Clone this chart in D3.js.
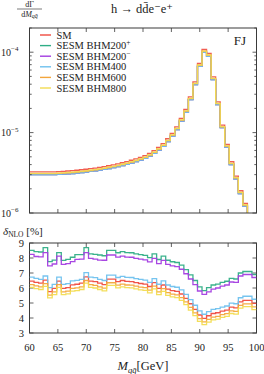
<!DOCTYPE html>
<html>
<head>
<meta charset="utf-8">
<script src="https://cdn.jsdelivr.net/npm/d3@7"></script>
<style>
  html, body { margin: 0; padding: 0; background: #fff; }
  svg { display: block; font-family: "Liberation Serif", "DejaVu Serif", serif; }
</style>
</head>
<body>
<svg id="chart" width="264" height="374"></svg>
<script>
/* ------------------------------- Data ------------------------------- */
// 50 bins of 0.8 GeV from 60 to 100 GeV
const binStart = 60;
const binWidth = 0.8;
const xTicks = [60, 65, 70, 75, 80, 85, 90, 95, 100];
const yTicksBottom = [3, 4, 5, 6, 7, 8, 9];
const topUnit = 1e-6;

const seriesNames = ["SM", "SESM BHM200", "SESM BHM200", "SESM BHM400", "SESM BHM600", "SESM BHM800"];
const seriesSup = ["", "+", "\u2212", "", "", ""];
const seriesColors = ["#ef4b3f", "#2fae86", "#a33de0", "#6fc1ee", "#f3a63c", "#f2dc52"];

// dΓ/dM (units of 1e-6)
const smTop = [3.25,3.25,3.25,3.25,3.25,3.25,3.27,3.29,3.33,3.36,3.40,3.45,3.50,3.56,3.62,3.70,3.78,3.87,3.97,4.09,
  4.22,4.36,4.53,4.71,4.93,5.18,5.53,5.98,6.55,7.30,8.38,9.77,11.8,15.0,19.4,27.9,42.8,72.4,108,96.4,
  49.3,24.1,12.4,7.13,4.34,2.88,1.89,1.32,0.6,0.3];
const bhm200pTop = [3.00,3.00,3.00,3.00,3.00,3.00,3.02,3.04,3.07,3.10,3.14,3.18,3.23,3.29,3.34,3.42,3.49,3.57,3.66,3.78,
  3.90,4.02,4.18,4.35,4.55,4.78,5.10,5.52,6.05,6.74,7.73,9.02,10.9,13.9,17.9,25.7,39.5,66.8,99.7,88.9,
  45.5,22.3,11.5,6.58,4.01,2.66,1.74,1.22,0.55,0.28];
const bhm200mTop = [3.00,3.00,3.00,3.00,3.00,3.00,3.02,3.04,3.07,3.10,3.14,3.18,3.23,3.29,3.34,3.42,3.49,3.57,3.66,3.78,
  3.90,4.02,4.18,4.35,4.55,4.78,5.10,5.52,6.05,6.74,7.73,9.02,10.9,13.9,17.9,25.7,39.5,66.8,99.7,88.9,
  45.5,22.3,11.5,6.58,4.01,2.66,1.74,1.22,0.55,0.28];
const bhm400Top = [3.00,3.00,3.00,3.00,3.00,3.00,3.02,3.04,3.07,3.10,3.14,3.18,3.23,3.29,3.34,3.42,3.49,3.57,3.66,3.78,
  3.90,4.02,4.18,4.35,4.55,4.78,5.10,5.52,6.05,6.74,7.73,9.02,10.9,13.9,17.9,25.7,39.5,66.8,99.7,88.9,
  45.5,22.3,11.5,6.58,4.01,2.66,1.74,1.22,0.55,0.28];
const bhm600Top = [3.09,3.09,3.09,3.09,3.09,3.09,3.11,3.13,3.16,3.19,3.23,3.28,3.33,3.38,3.44,3.52,3.59,3.68,3.77,3.89,
  4.01,4.14,4.30,4.47,4.68,4.92,5.25,5.68,6.22,6.94,7.96,9.28,11.2,14.3,18.5,26.5,40.6,68.8,103,91.5,
  46.9,22.9,11.8,6.77,4.12,2.74,1.80,1.25,0.57,0.29];
const bhm800Top = [3.11,3.11,3.11,3.11,3.11,3.11,3.13,3.15,3.19,3.22,3.26,3.30,3.35,3.41,3.47,3.54,3.62,3.71,3.80,3.92,
  4.04,4.17,4.34,4.51,4.72,4.96,5.29,5.72,6.27,6.99,8.02,9.35,11.3,14.4,18.6,26.7,41.0,69.3,103,92.3,
  47.2,23.1,11.9,6.82,4.15,2.76,1.81,1.26,0.57,0.29];

// δ_NLO in %
const smDelta = [6.46,6.38,6.32,6.53,5.76,5.98,6.46,5.98,6.03,6.21,6.25,6.32,6.74,6.46,6.42,6.32,6.23,6.59,6.59,6.43,
  6.50,6.44,6.43,6.36,6.30,6.26,6.10,6.36,5.98,6.20,5.93,5.83,5.78,5.60,5.31,4.95,4.58,4.20,3.98,4.15,
  4.30,4.35,4.46,4.53,4.72,4.68,5.08,5.18,5.18,4.98];
const bhm200pDelta = [8.51,8.42,8.40,8.69,7.76,7.86,8.36,7.84,7.91,8.05,8.22,8.22,8.69,8.27,8.24,8.20,8.15,8.51,8.51,8.35,
  8.42,8.36,8.35,8.28,8.22,8.18,8.02,8.28,7.90,8.12,7.85,7.75,7.70,7.52,7.23,6.87,6.50,6.08,5.83,6.02,
  6.20,6.26,6.38,6.45,6.64,6.60,7.00,7.10,7.10,6.90];
const bhm200mDelta = [8.24,8.10,8.07,8.36,7.47,7.60,8.12,7.58,7.62,7.76,7.91,7.92,8.36,7.98,7.92,7.86,7.85,8.20,8.20,8.06,
  8.12,8.06,8.05,7.98,7.92,7.88,7.74,7.98,7.62,7.84,7.58,7.48,7.43,7.25,6.95,6.60,6.22,5.80,5.57,5.74,
  5.92,6.00,6.12,6.20,6.40,6.38,6.80,6.90,6.90,6.70];
const bhm400Delta = [6.73,6.64,6.58,6.80,6.02,6.24,6.73,6.24,6.29,6.47,6.51,6.58,7.02,6.73,6.69,6.58,6.50,6.86,6.86,6.70,
  6.77,6.71,6.70,6.63,6.57,6.53,6.37,6.63,6.25,6.47,6.20,6.10,6.05,5.87,5.58,5.22,4.85,4.48,4.25,4.42,
  4.57,4.62,4.73,4.80,4.99,4.95,5.35,5.45,5.45,5.25];
const bhm600Delta = [6.22,6.14,6.08,6.29,5.52,5.74,6.22,5.74,5.79,5.97,6.01,6.08,6.50,6.22,6.18,6.08,5.99,6.35,6.35,6.19,
  6.26,6.20,6.19,6.12,6.06,6.02,5.86,6.12,5.74,5.96,5.69,5.59,5.54,5.36,5.07,4.71,4.34,3.96,3.74,3.91,
  4.06,4.11,4.22,4.29,4.48,4.44,4.84,4.94,4.94,4.74];
const bhm800Delta = [6.04,5.96,5.90,6.11,5.34,5.56,6.04,5.56,5.61,5.79,5.83,5.90,6.32,6.04,6.00,5.90,5.81,6.17,6.17,6.01,
  6.08,6.02,6.01,5.94,5.88,5.84,5.68,5.94,5.56,5.78,5.51,5.41,5.36,5.18,4.89,4.53,4.16,3.78,3.56,3.73,
  3.88,3.93,4.04,4.11,4.30,4.26,4.66,4.76,4.76,4.56];

const topSeries = [smTop, bhm200pTop, bhm200mTop, bhm400Top, bhm600Top, bhm800Top];
const deltaSeries = [smDelta, bhm200pDelta, bhm200mDelta, bhm400Delta, bhm600Delta, bhm800Delta];

/* ------------------------------ Layout ------------------------------ */
const svg = d3.select("#chart");
const frameColor = "#3a3a3a";
const left = 29.5, right = 256.5;
const topPanel = { y0: 28, y1: 213 };
const botPanel = { y0: 243, y1: 333 };

const x = d3.scaleLinear().domain([60, 100]).range([left, right]);
const yTop = d3.scaleLog().domain([1e-6, 2e-4]).range([topPanel.y1, topPanel.y0]);
const yBot = d3.scaleLinear().domain([3, 9]).range([botPanel.y1, botPanel.y0]);

const edge = (i) => binStart + binWidth * i;

function stepPath(vals, y, scale = 1) {
  const pts = vals.map((v, i) => [edge(i), v * scale]);
  pts.push([edge(vals.length), vals[vals.length - 1] * scale]);
  return d3.line().curve(d3.curveStepAfter).x((d) => x(d[0])).y((d) => y(d[1]))(pts);
}

const defs = svg.append("defs");
[["clipTop", topPanel], ["clipBot", botPanel]].forEach(([id, p]) => {
  defs.append("clipPath").attr("id", id)
    .append("rect").attr("x", left).attr("y", p.y0).attr("width", right - left).attr("height", p.y1 - p.y0);
});

/* ---------------------------- Top panel ----------------------------- */
svg.append("g").attr("clip-path", "url(#clipTop)")
  .selectAll("path").data(topSeries).enter().append("path")
  .attr("d", (d) => stepPath(d, yTop, topUnit))
  .attr("fill", "none")
  .attr("stroke", (d, i) => seriesColors[i])
  .attr("stroke-width", 1.3)
  .attr("stroke-opacity", 0.9);

// log ticks
const logMajor = [1e-6, 1e-5, 1e-4];
const logMinor = [];
[1e-6, 1e-5, 1e-4].forEach((dec) => d3.range(2, 10).forEach((m) => { if (m * dec <= 2e-4) logMinor.push(m * dec); }));

const tickG = svg.append("g").attr("stroke", frameColor).attr("stroke-width", 0.8);
logMajor.forEach((v) => {
  tickG.append("line").attr("x1", left).attr("x2", left + 4).attr("y1", yTop(v)).attr("y2", yTop(v));
  tickG.append("line").attr("x1", right).attr("x2", right - 4).attr("y1", yTop(v)).attr("y2", yTop(v));
});
logMinor.forEach((v) => {
  tickG.append("line").attr("x1", left).attr("x2", left + 2.2).attr("y1", yTop(v)).attr("y2", yTop(v));
  tickG.append("line").attr("x1", right).attr("x2", right - 2.2).attr("y1", yTop(v)).attr("y2", yTop(v));
});
xTicks.forEach((t) => {
  [[topPanel.y0, 1], [topPanel.y1, -1], [botPanel.y0, 1], [botPanel.y1, -1]].forEach(([yy, dir]) => {
    tickG.append("line").attr("x1", x(t)).attr("x2", x(t)).attr("y1", yy).attr("y2", yy + dir * 4);
  });
});
yTicksBottom.forEach((v) => {
  tickG.append("line").attr("x1", left).attr("x2", left + 4).attr("y1", yBot(v)).attr("y2", yBot(v));
  tickG.append("line").attr("x1", right).attr("x2", right - 4).attr("y1", yBot(v)).attr("y2", yBot(v));
});

// frames
[topPanel, botPanel].forEach((p) => {
  svg.append("rect").attr("x", left).attr("y", p.y0).attr("width", right - left).attr("height", p.y1 - p.y0)
    .attr("fill", "none").attr("stroke", frameColor).attr("stroke-width", 1);
});

// top y labels
const expLabels = [[1e-4, "\u22124"], [1e-5, "\u22125"], [1e-6, "\u22126"]];
expLabels.forEach(([v, e]) => {
  const t = svg.append("text").attr("x", 1).attr("y", yTop(v) + 3.5).attr("font-size", 10).attr("fill", "#222");
  t.append("tspan").text("10");
  t.append("tspan").attr("dy", -4.5).attr("font-size", 7).text(e);
});

/* --------------------------- Legend --------------------------------- */
const legend = svg.append("g");
seriesNames.forEach((name, i) => {
  const yy = 35 + i * 10.6;
  legend.append("line").attr("x1", 40).attr("x2", 51).attr("y1", yy).attr("y2", yy)
    .attr("stroke", seriesColors[i]).attr("stroke-width", 1.4);
  const t = legend.append("text").attr("x", 56.5).attr("y", yy + 3.6).attr("font-size", 10.5).attr("fill", "#222");
  t.append("tspan").text(name);
  if (seriesSup[i]) t.append("tspan").attr("dy", -4).attr("font-size", 7.5).text(seriesSup[i]);
});

svg.append("text").attr("x", 246).attr("y", 44.5).attr("text-anchor", "end")
  .attr("font-size", 13).attr("fill", "#222").text("FJ");

/* --------------------------- Bottom panel --------------------------- */
svg.append("g").attr("clip-path", "url(#clipBot)")
  .selectAll("path").data(deltaSeries).enter().append("path")
  .attr("d", (d) => stepPath(d, yBot))
  .attr("fill", "none")
  .attr("stroke", (d, i) => seriesColors[i])
  .attr("stroke-width", 1.3)
  .attr("stroke-opacity", 0.95);

yTicksBottom.forEach((v) => {
  svg.append("text").attr("x", 24).attr("y", yBot(v) + 3.6).attr("text-anchor", "end")
    .attr("font-size", 10.5).attr("fill", "#222").text(v);
});
xTicks.forEach((t) => {
  svg.append("text").attr("x", x(t)).attr("y", 350.5).attr("text-anchor", "middle")
    .attr("font-size", 10.5).attr("fill", "#222").text(t);
});

/* ------------------------------ Titles ------------------------------ */
svg.append("text").attr("x", 142).attr("y", 12.5).attr("text-anchor", "middle")
  .attr("font-size", 12.5).attr("fill", "#222").text("h \u2192 dd\u0304e\u207Be\u207A");

// dΓ / dM_qq̄
svg.append("text").attr("x", 29.5).attr("y", 7).attr("text-anchor", "middle")
  .attr("font-size", 8).attr("fill", "#222").text("d\u0393");
svg.append("line").attr("x1", 17).attr("x2", 42).attr("y1", 9).attr("y2", 9)
  .attr("stroke", "#222").attr("stroke-width", 0.6);
const den = svg.append("text").attr("x", 29.5).attr("y", 16.5).attr("text-anchor", "middle")
  .attr("font-size", 8).attr("fill", "#222");
den.append("tspan").text("d");
den.append("tspan").attr("font-style", "italic").text("M");
den.append("tspan").attr("font-style", "italic").attr("font-size", 6).attr("dy", 1.8).text("qq\u0304");

// δ_NLO [%]
const dl = svg.append("text").attr("x", 3).attr("y", 234.5).attr("font-size", 11).attr("fill", "#222");
dl.append("tspan").attr("font-style", "italic").text("\u03B4");
dl.append("tspan").attr("font-size", 7.5).attr("dy", 2.5).text("NLO");
dl.append("tspan").attr("dy", -2.5).text(" [%]");

// M_qq̄ [GeV]
const xl = svg.append("text").attr("x", 143).attr("y", 370).attr("text-anchor", "middle")
  .attr("font-size", 12.5).attr("fill", "#222");
xl.append("tspan").attr("font-style", "italic").text("M");
xl.append("tspan").attr("font-style", "italic").attr("font-size", 8.5).attr("dy", 2.5).text("qq\u0304");
xl.append("tspan").attr("dy", -2.5).text("[GeV]");
</script>
</body>
</html>
